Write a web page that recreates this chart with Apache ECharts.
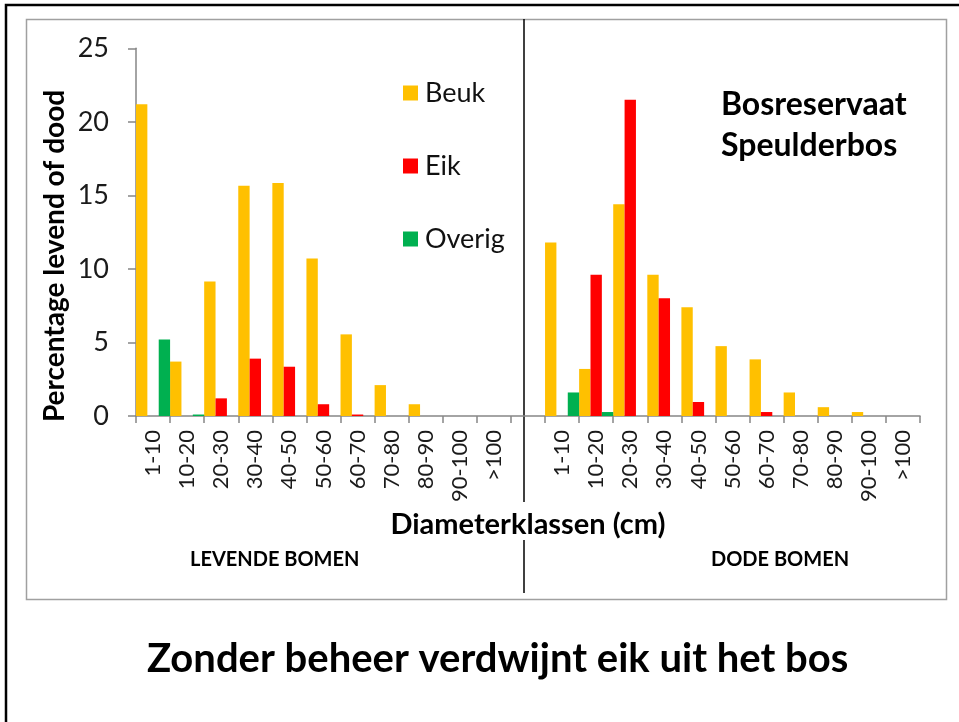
<!DOCTYPE html>
<html>
<head>
<meta charset="utf-8">
<script src="https://cdn.jsdelivr.net/npm/echarts@6/dist/echarts.min.js"></script>
<style>
html,body{margin:0;padding:0;background:#fff;}
#c{width:959px;height:722px;}
</style>
</head>
<body>
<div id="c"></div>
<script>
// Diameter classes (cm)
const klassen = ['1-10','10-20','20-30','30-40','40-50','50-60','60-70','70-80','80-90','90-100','>100'];
// Living trees (%)
const beukLevend   = [21.2, 3.7, 9.15, 15.65, 15.85, 10.7, 5.55, 2.1, 0.8, 0, 0];
const eikLevend    = [0, 0, 1.2, 3.9, 3.35, 0.8, 0.1, 0, 0, 0, 0];
const overigLevend = [5.2, 0.1, 0, 0, 0, 0, 0, 0, 0, 0, 0];
// Dead trees (%)
const beukDood   = [11.8, 3.2, 14.4, 9.6, 7.4, 4.75, 3.85, 1.6, 0.6, 0.27, 0];
const eikDood    = [0, 9.6, 21.5, 8.0, 0.95, 0, 0.27, 0, 0, 0, 0];
const overigDood = [1.6, 0.27, 0, 0, 0, 0, 0, 0, 0, 0, 0];
const yTicks = [0, 5, 10, 15, 20, 25];

const categories = klassen.concat(['']).concat(klassen);
const join = (a, b) => a.concat([null]).concat(b);

const FONT = 'Lato';
const chart = echarts.init(document.getElementById('c'), null, {renderer: 'canvas'});
chart.setOption({
  animation: false,
  backgroundColor: '#fff',
  textStyle: {fontFamily: FONT},
  grid: {left: 136, right: 39, top: 48.3, bottom: 306, containLabel: false},
  title: [
    {text: 'Zonder beheer verdwijnt eik uit het bos', left: 142, top: 634,
     textStyle: {fontFamily: FONT, fontSize: 40, fontWeight: 'bold', color: '#000'}},
    {text: 'LEVENDE BOMEN', left: 185, top: 545,
     textStyle: {fontFamily: FONT, fontSize: 20, fontWeight: 'bold', color: '#000'}},
    {text: 'DODE BOMEN', left: 706, top: 545,
     textStyle: {fontFamily: FONT, fontSize: 20, fontWeight: 'bold', color: '#000'}},
    {text: 'Bosreservaat\nSpeulderbos', left: 716, top: 79,
     textStyle: {fontFamily: FONT, fontSize: 32, fontWeight: 'bold', color: '#000', lineHeight: 41}}
  ],
  legend: {
    orient: 'vertical', left: 398, top: 74,
    icon: 'rect', itemWidth: 15, itemHeight: 15, itemGap: 45,
    textStyle: {fontFamily: FONT, fontSize: 27, color: '#111', lineHeight: 28, padding: [0,0,0,2]},
    data: ['Beuk', 'Eik', 'Overig']
  },
  xAxis: {
    type: 'category', data: categories, boundaryGap: true,
    name: 'Diameterklassen (cm)', nameLocation: 'middle', nameGap: 92,
    nameTextStyle: {fontFamily: FONT, fontSize: 29, fontWeight: 'bold', color: '#000'},
    axisLine: {show: true, lineStyle: {color: '#868686', width: 1.5}},
    axisTick: {show: true, interval: 0, alignWithLabel: false, length: 7, lineStyle: {color: '#868686', width: 1.5}},
    axisLabel: {interval: 0, rotate: 90, margin: 14, fontFamily: FONT, fontSize: 22, color: '#1a1a1a'},
    splitLine: {show: false}
  },
  yAxis: {
    type: 'value', min: 0, max: 25, interval: 5,
    axisLine: {show: true, lineStyle: {color: '#868686', width: 1.5}},
    axisTick: {show: true, length: 8, lineStyle: {color: '#868686', width: 1.5}},
    axisLabel: {margin: 27, fontFamily: FONT, fontSize: 27, color: '#1a1a1a',
      formatter: v => yTicks.includes(v) ? String(v) : ''},
    splitLine: {show: false}
  },
  series: [
    {name: 'Beuk', type: 'bar', data: join(beukLevend, beukDood), barGap: '0%', barCategoryGap: '0%',
     itemStyle: {color: '#FFC000'}},
    {name: 'Eik', type: 'bar', data: join(eikLevend, eikDood), barGap: '0%', barCategoryGap: '0%',
     itemStyle: {color: '#FF0000'}},
    {name: 'Overig', type: 'bar', data: join(overigLevend, overigDood), barGap: '0%', barCategoryGap: '0%',
     itemStyle: {color: '#00B050'}}
  ],
  graphic: [
    {type: 'rect', shape: {x: 6, y: 5, width: 980, height: 740}, silent: true,
     style: {fill: null, stroke: '#000', lineWidth: 2.5}},
    {type: 'rect', shape: {x: 26.5, y: 19.5, width: 920, height: 580}, silent: true,
     style: {fill: null, stroke: '#a0a0a0', lineWidth: 1.5}},
    {type: 'line', shape: {x1: 524, y1: 19, x2: 524, y2: 502}, silent: true,
     style: {stroke: '#000', lineWidth: 1.5}},
    {type: 'line', shape: {x1: 524, y1: 540, x2: 524, y2: 593}, silent: true,
     style: {stroke: '#000', lineWidth: 1.5}},
    {type: 'text', x: 55, y: 256, rotation: Math.PI / 2, silent: true,
     style: {text: 'Percentage levend of dood', fontFamily: FONT, fontSize: 28, fontWeight: 'bold',
       fill: '#000', align: 'center', verticalAlign: 'middle'}}
  ]
});
</script>
</body>
</html>
